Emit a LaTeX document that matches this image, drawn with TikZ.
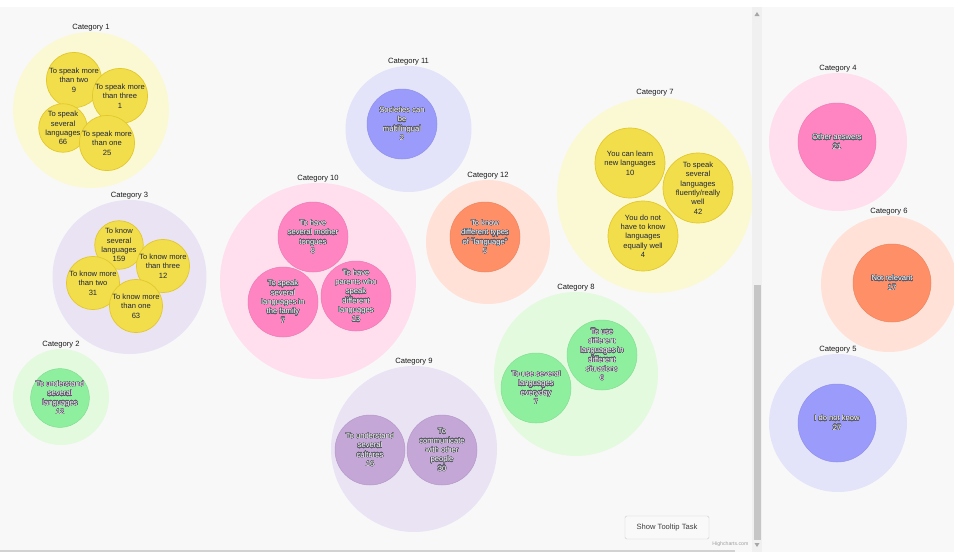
\documentclass[tikz,border=0pt]{standalone}
\usepackage{fontspec}
\setmainfont{Liberation Sans}
\usepackage{contour}
\contourlength{0.32pt}
\contournumber{32}
\definecolor{bg}{HTML}{F8F8F8}
\definecolor{olc}{HTML}{5A5A68}
\definecolor{ytx}{HTML}{1E2440}
% outer colours
\definecolor{oY}{HTML}{FBF8D4}
\definecolor{oL}{HTML}{EAE3F4}
\definecolor{oG}{HTML}{E3FADF}
\definecolor{oP}{HTML}{FFDEEE}
\definecolor{oB}{HTML}{E3E3FA}
\definecolor{oS}{HTML}{FFE1D8}
% inner colours
\definecolor{iY}{HTML}{F2DE4B}
\definecolor{iYd}{HTML}{E2C82A}
\definecolor{iL}{HTML}{C4A6D7}
\definecolor{iG}{HTML}{8EF09F}
\definecolor{iP}{HTML}{FF85C2}
\definecolor{iB}{HTML}{9B9BFB}
\definecolor{iS}{HTML}{FF8F66}
\newcommand\intfont{\fontsize{7.6}{9.3}\selectfont}
\newcommand\catfont{\fontsize{7.6}{9}\selectfont}
\newcommand\wl[1]{\contour{olc}{#1}}
\newcommand\catg[6]{%
  \node[outerc, fill=#5, minimum size={2*#4pt}] (#1) at (#2,#3) {};
  \node[catlab] (#1l) at (#2,{#3-#4-3}) {#6};}
\tikzset{
  outerc/.style={circle, inner sep=0pt, draw=none},
  catlab/.style={anchor=base, inner sep=0pt, font=\catfont, text=black!90},
  inr/.style={circle, inner sep=0pt, align=center, font=\intfont},
  yel/.style={inr, fill=iY, draw=iYd, line width=0.7pt, text=ytx, minimum size=#1},
  yel/.default=46pt,
  colr/.style 2 args={inr, fill=#1, draw=#1!92!black, line width=0.5pt, text=white, minimum size=#2},
}
\begin{document}
\begin{tikzpicture}[x=1pt,y=-1pt]
\useasboundingbox (0,0) rectangle (954,552);
\fill[bg] (0,0) rectangle (954,552);
\fill[white] (0,0) rectangle (954,7);

% ---- Category 1
\catg{c1}{91}{110}{78}{oY}{Category 1}
\node[yel] (c1a) at (74,80) {To speak more\\than two\\9};
\node[yel] (c1b) at (120,96) {To speak more\\than three\\1};
\node[yel] (c1c) at (63,128) {To speak\\several\\languages\\66};
\node[yel] (c1d) at (107,143) {To speak more\\than one\\25};

% ---- Category 3
\catg{c3}{129.5}{277}{77}{oL}{Category 3}
\node[yel] (c3a) at (119,245) {To know\\several\\languages\\159};
\node[yel] (c3b) at (163,266) {To know more\\than three\\12};
\node[yel] (c3c) at (93,283) {To know more\\than two\\31};
\node[yel] (c3d) at (136,306) {To know more\\than one\\63};

% ---- Category 2
\catg{c2}{61}{397}{48}{oG}{Category 2}
\node[colr={iG}{44pt}] (c2a) at (60,398) {\wl{To understand}\\\wl{several}\\\wl{languages}\\\wl{12}};

% ---- Category 10
\catg{c10}{318}{281}{98}{oP}{Category 10}
\node[colr={iP}{70pt}] (c10a) at (313,237) {\wl{To have}\\\wl{several mother}\\\wl{tongues}\\\wl{8}};
\node[colr={iP}{70pt}] (c10b) at (283,302) {\wl{To speak}\\\wl{several}\\\wl{languages in}\\\wl{the family}\\\wl{7}};
\node[colr={iP}{70pt}] (c10c) at (356,296) {\wl{To have}\\\wl{parents who}\\\wl{speak}\\\wl{different}\\\wl{languages}\\\wl{13}};

% ---- Category 11
\catg{c11}{408.5}{129}{63}{oB}{Category 11}
\node[colr={iB}{70pt}] (c11a) at (402,124) {\wl{Societies can}\\\wl{be}\\\wl{multilingual}\\\wl{2}};

% ---- Category 12
\catg{c12}{488}{242}{62}{oS}{Category 12}
\node[colr={iS}{70pt}] (c12a) at (485,237) {\wl{To know}\\\wl{different types}\\\wl{of "language"}\\\wl{5}};

% ---- Category 9
\catg{c9}{414}{449}{83}{oL}{Category 9}
\node[colr={iL}{70pt}] (c9a) at (370,450) {\wl{To understand}\\\wl{several}\\\wl{cultures}\\\wl{16}};
\node[colr={iL}{70pt}] (c9b) at (442,450) {\wl{To}\\\wl{communicate}\\\wl{with other}\\\wl{people}\\\wl{30}};

% ---- Category 7
\catg{c7}{655}{195}{98}{oY}{Category 7}
\node[yel=70pt] (c7a) at (630,163) {You can learn\\new languages\\10};
\node[yel=70pt] (c7b) at (698,188) {To speak\\several\\languages\\fluently/really\\well\\42};
\node[yel=70pt] (c7c) at (643,236) {You do not\\have to know\\languages\\equally well\\4};

% ---- Category 8
\catg{c8}{576}{374}{82}{oG}{Category 8}
\node[colr={iG}{70pt}] (c8a) at (602,355) {\wl{To use}\\\wl{different}\\\wl{languages in}\\\wl{different}\\\wl{situations}\\\wl{6}};
\node[colr={iG}{70pt}] (c8b) at (536,388) {\wl{To use several}\\\wl{languages}\\\wl{everyday}\\\wl{7}};

% ---- scrollbar and bottom line
\fill[gray!12] (752,7) rectangle (762,552);
\fill[gray!45] (753.5,285) rectangle (760.5,540);
\fill[gray!70] (754.5,16) -- (759.5,16) -- (757,12) -- cycle;
\fill[gray!70] (754.5,543) -- (759.5,543) -- (757,547) -- cycle;
\fill[gray!35] (0,549.5) rectangle (735,552);
\node[anchor=east, font=\fontsize{5.2}{6}\selectfont, text=gray!75] (hc) at (752,544.5) {Highcharts.com};
\node[draw=gray!40, fill=gray!5, rounded corners=1.5pt, minimum width=84pt, minimum height=23pt, inner sep=0pt,
      font=\fontsize{7.6}{9}\selectfont, text=black!75] (btn) at (667,527.5) {Show Tooltip Task};

% ---- right panel
\catg{c4}{838}{142}{69}{oP}{Category 4}
\node[colr={iP}{78pt}] (c4a) at (837,142) {\wl{Other answers}\\\wl{21}};
\catg{c6}{889}{284}{68}{oS}{Category 6}
\node[colr={iS}{78pt}] (c6a) at (892,283) {\wl{Not relevant}\\\wl{17}};
\catg{c5}{838}{423}{69}{oB}{Category 5}
\node[colr={iB}{78pt}] (c5a) at (837,423) {\wl{I do not know}\\\wl{27}};
\end{tikzpicture}
\end{document}
